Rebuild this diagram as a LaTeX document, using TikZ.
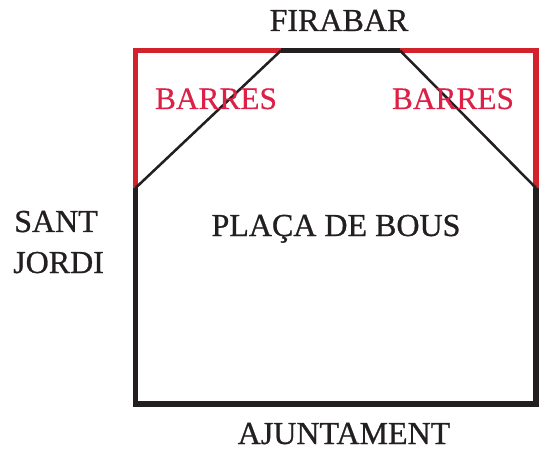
\documentclass[tikz,border=0pt]{standalone}
\usepackage{fontspec}
\setmainfont{Liberation Serif}
\newfontfamily\heavy[FakeBold=0.8]{Liberation Serif}
\newfontfamily\medium[FakeBold=0.35]{Liberation Serif}
\definecolor{crim}{RGB}{221,32,70}
\definecolor{rd}{RGB}{210,35,45}
\definecolor{ink}{RGB}{35,31,32}
\tikzset{
  lbl/.style={text=ink,font=\heavy\fontsize{24}{31.5}\selectfont,inner sep=0pt,anchor=base},
  barlbl/.style={text=crim,font=\medium\fontsize{23.5}{25}\selectfont,inner sep=0pt,anchor=base},
  thick black/.style={draw=ink,line width=4pt},
  thick red/.style={draw=rd,line width=4pt},
  diag/.style={draw=ink,line width=1.9pt}
}
\begin{document}
\begin{tikzpicture}[x=0.75pt,y=-0.75pt]
\useasboundingbox (0,0) rectangle (539,449);
\coordinate (tl) at (135.5,50.5);
\coordinate (a) at (281,50.5);
\coordinate (b) at (400,50.5);
\coordinate (tr) at (536,50.5);
\coordinate (l) at (135.5,188);
\coordinate (r) at (536,188);
\coordinate (bl) at (135.5,404);
\coordinate (br) at (536,404);
\draw[thick black,line cap=butt] (l) -- (bl) -- (br) -- (r);
\draw[thick black] (a) -- (b);
\draw[thick red] (l) -- (tl) -- (a);
\draw[thick red] (b) -- (tr) -- (r);
\draw[diag] (l) -- (a);
\draw[diag] (b) -- (r);
\node[lbl] (firabar) at (339,31) {FIRABAR};
\node[barlbl] (b1) at (216,109) {BARRES};
\node[barlbl] (b2) at (453,109) {BARRES};
\node[lbl] (plaza) at (336,236) {PLAÇA DE BOUS};
\node[lbl,anchor=base west] (sant) at (14,232) {SANT};
\node[lbl,anchor=base west] (jordi) at (13,273) {JORDI};
\node[lbl] (ajunt) at (344,444) {AJUNTAMENT};
\end{tikzpicture}
\end{document}
